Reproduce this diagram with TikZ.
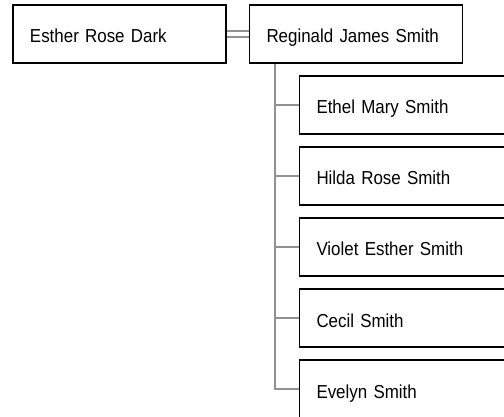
\documentclass[tikz,border=0pt]{standalone}
\usepackage{fontspec}
\setmainfont{Liberation Sans}[FakeStretch=0.9]
\definecolor{linkgray}{RGB}{145,145,145}
\begin{document}
\begin{tikzpicture}
    [
        x=1pt, y=-1pt,
        person/.style={rectangle, draw, line width=1.9pt, minimum width=213pt,
            minimum height=58pt, inner xsep=17pt, text width=179pt, align=left,
            text height=18pt, text depth=0pt, font=\fontsize{18.8pt}{21pt}\selectfont},
        link/.style={draw=linkgray, line width=2pt},
        marriage/.style={draw=linkgray, line width=2pt, double=white, double distance=4.4pt},
    ]
    \useasboundingbox (0,0) rectangle (504,417);

    \node (esther) at (119.5,34) [person] {Esther Rose Dark};
    \node (reginald) at (356,34) [person] {Reginald James Smith};

    \node (ethel) at (406,105) [person] {Ethel Mary Smith};
    \node (hilda) at (406,176) [person] {Hilda Rose Smith};
    \node (violet) at (406,247) [person] {Violet Esther Smith};
    \node (cecil) at (406,318) [person] {Cecil Smith};
    \node (evelyn) at (406,389) [person] {Evelyn Smith};

    \draw[marriage] (esther.east) -- (reginald.west);

    \coordinate (trunk) at (274.5,64);
    \draw[link] (trunk) |- (ethel.west);
    \draw[link] (trunk) |- (hilda.west);
    \draw[link] (trunk) |- (violet.west);
    \draw[link] (trunk) |- (cecil.west);
    \draw[link] (trunk) |- (evelyn.west);
\end{tikzpicture}
\end{document}
